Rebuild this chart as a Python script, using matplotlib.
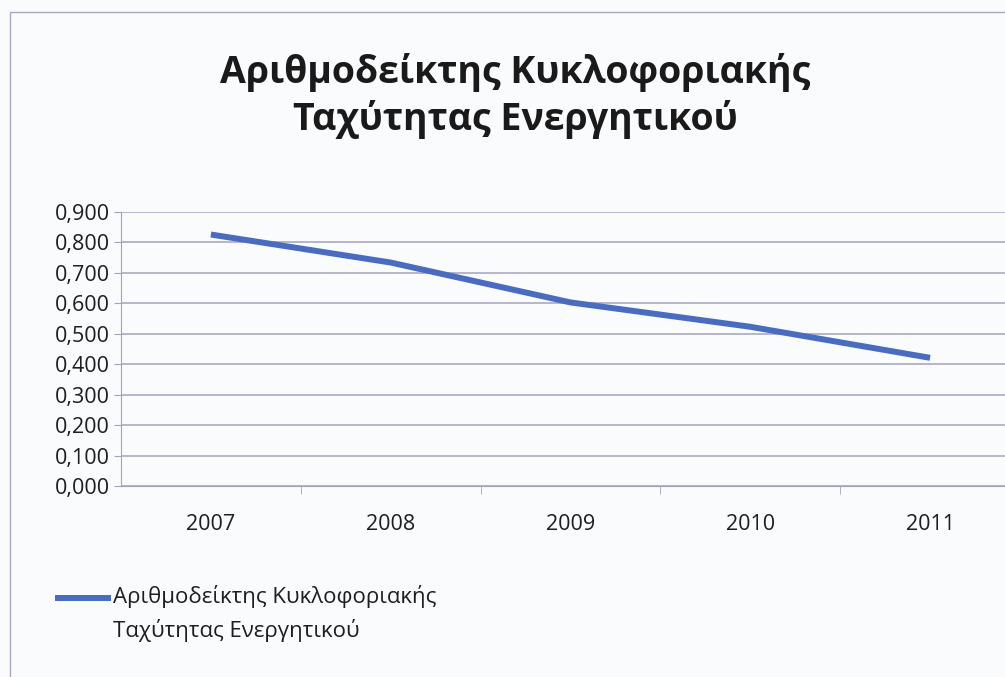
import matplotlib.pyplot as plt
from matplotlib.lines import Line2D
from matplotlib.ticker import FuncFormatter

# data
years = ['2007', '2008', '2009', '2010', '2011']
values = [0.826, 0.734, 0.603, 0.523, 0.421]
series_name = 'Αριθμοδείκτης Κυκλοφοριακής\nΤαχύτητας Ενεργητικού'
title = 'Αριθμοδείκτης Κυκλοφοριακής\nΤαχύτητας Ενεργητικού'

plt.rcParams['font.family'] = ['Open Sans', 'DejaVu Sans']

W, H = 1005, 677
fig = plt.figure(figsize=(W / 100, H / 100), dpi=100)
fig.patch.set_facecolor('#fafbfd')

# chart border (cut by the scan on the right and bottom)
border = plt.Rectangle((10 / W, -0.1), 1.2, 1 - 12 / H + 0.1,
                       transform=fig.transFigure, fill=False,
                       edgecolor='#a9a9bd', linewidth=1.0)
fig.add_artist(border)

ax = fig.add_axes([121 / W, 1 - 486 / H, (1020 - 121) / W, (486 - 212) / H])
ax.set_facecolor('#fafbfd')

x = range(len(years))
line_color = '#4a6cc0'
ax.plot(x, values, color=line_color, linewidth=4.3, solid_capstyle='butt')

ax.set_xlim(-0.5, len(years) - 0.5)
ax.set_ylim(0, 0.9)
ax.set_yticks([i / 10 for i in range(10)])
ax.yaxis.set_major_formatter(FuncFormatter(lambda v, p: f'{v:.3f}'.replace('.', ',')))
ax.set_xticks(list(x))
ax.set_xticklabels(years)
ax.set_xticks([i + 0.5 for i in range(len(years) - 1)], minor=True)

ax.grid(axis='y', color='#a4a2bb', linewidth=1.1)
ax.set_axisbelow(True)
for s in ['top', 'right']:
    ax.spines[s].set_visible(False)
ax.spines['left'].set_color('#a4a2bb')
ax.spines['bottom'].set_color('#a4a2bb')

ax.tick_params(axis='y', labelsize=15.5, colors='#a4a2bb', labelcolor='#1e1e1e',
               length=5, direction='out', pad=3)
ax.tick_params(axis='x', which='major', length=0, labelsize=15.5,
               labelcolor='#1e1e1e', pad=20)
ax.tick_params(axis='x', which='minor', length=6, colors='#a4a2bb')

fig.text(0.513, 1 - 96 / H, title, ha='center', va='center',
         fontsize=27, fontweight='bold', color='#1a1a1a', linespacing=1.25)

# legend drawn by hand so the key sits on the first text line
fig.add_artist(Line2D([55 / W, 111 / W], [1 - 598 / H, 1 - 598 / H],
                      transform=fig.transFigure, color=line_color,
                      linewidth=4.3, solid_capstyle='butt'))
fig.text(113 / W, 1 - 585 / H, series_name, ha='left', va='top',
         fontsize=16, color='#1e1e1e', linespacing=1.6)

fig.savefig('out.png', dpi=100, facecolor=fig.get_facecolor())
